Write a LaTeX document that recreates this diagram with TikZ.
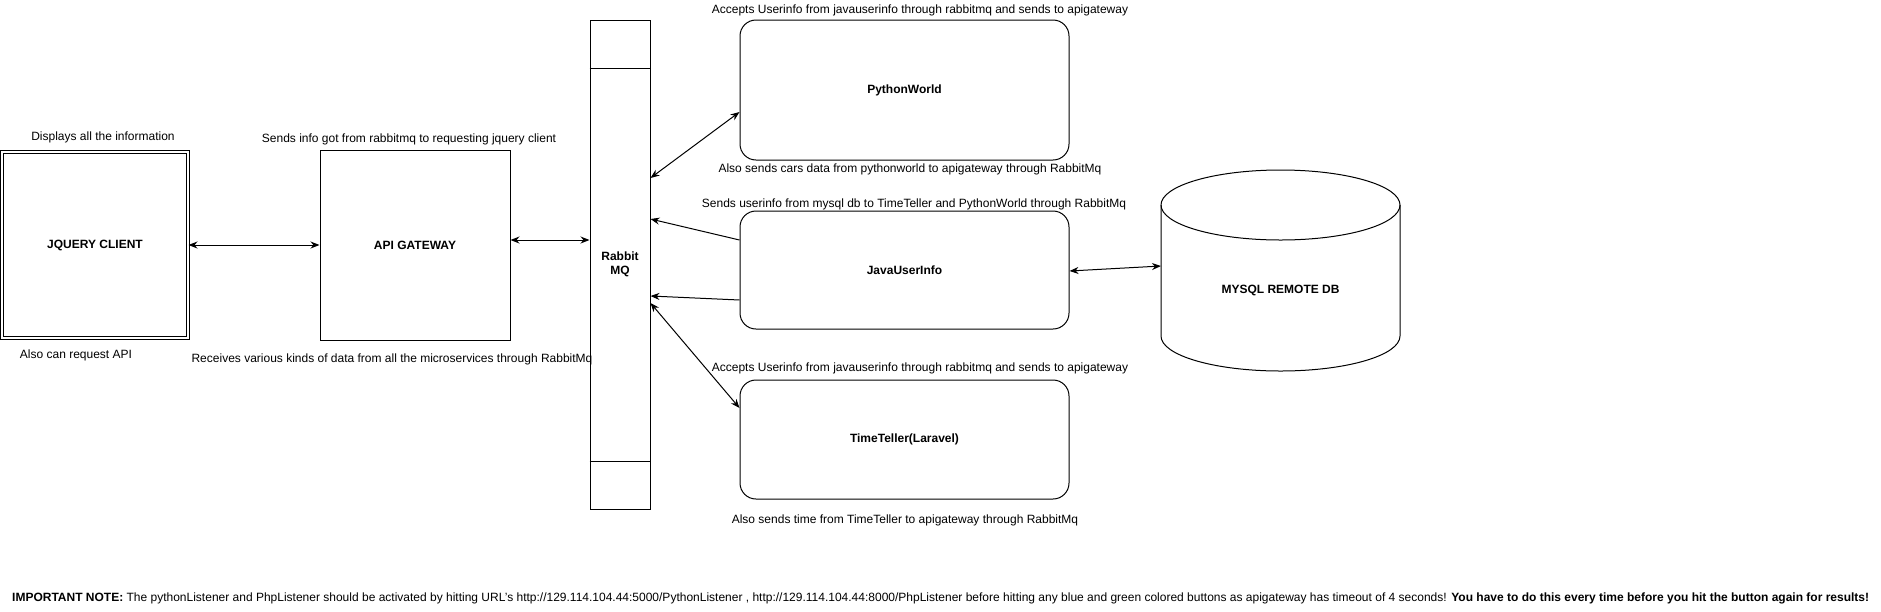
\documentclass[tikz,border=0pt]{standalone}
\usepackage{fontspec}
\setmainfont{Liberation Sans}
\usetikzlibrary{positioning,calc,arrows.meta}

\begin{document}
\begin{tikzpicture}[x=1pt,y=1pt,yscale=-1,xscale=1,
  blk/.style={draw,line width=1pt,inner sep=0,font=\fontsize{12}{14}\selectfont\bfseries,align=center},
  svc/.style={blk,rounded corners=16,minimum width=329},
  lbl/.style={inner sep=0,font=\fontsize{12}{14}\selectfont},
  bi/.style={line width=1pt,{Stealth[length=9pt,width=7pt]}-{Stealth[length=9pt,width=7pt]}},
  uni/.style={line width=1pt,-{Stealth[length=9pt,width=7pt]}}]
\useasboundingbox (0,0) rectangle (1881,611);

%Boxes
\node [blk,double,double distance=2pt,minimum width=186,minimum height=186] (jquery) at (95,245) {JQUERY CLIENT};
\node [blk,minimum width=190,minimum height=190] (gateway) at (415,245) {API GATEWAY};
\node [blk,minimum width=60,minimum height=489] (rabbit) at (620,264.5) {Rabbit\\MQ};
\draw [line width=1pt] ($(rabbit.north west)+(0,49)$) -- ($(rabbit.north east)+(0,49)$) ;
\draw [line width=1pt] ($(rabbit.south west)+(0,-48)$) -- ($(rabbit.south east)+(0,-48)$) ;
\node [svc,minimum height=140] (python) at (904.5,90) {PythonWorld};
\node [svc,minimum height=118] (java) at (904.5,270) {JavaUserInfo};
\node [svc,minimum height=119] (timeteller) at (904.5,439.5) {TimeTeller(Laravel)};

%Cylinder
\draw [line width=1pt] (1161,205) -- (1161,336) arc [start angle=180,end angle=0,x radius=119.5,y radius=35] -- (1400,205) ;
\draw [line width=1pt] (1280.5,205) ellipse [x radius=119.5,y radius=35] ;
\node [lbl,font=\fontsize{12}{14}\selectfont\bfseries] (mysql) at (1280.5,290) {MYSQL REMOTE DB};
\coordinate (dbin) at (1161,266);

%Connectors
\draw [bi] (jquery.east) -- (gateway.west) ;
\draw [bi] ($(gateway.east)+(0,-5)$) -- ($(rabbit.west)+(0,-24.5)$) ;
\draw [bi] ($(rabbit.east)+(0,-86.5)$) -- ($(python.west)+(0,22)$) ;
\draw [uni] ($(java.west)+(0,-30)$) -- ($(rabbit.east)+(0,-45.5)$) ;
\draw [uni] ($(java.west)+(0,30)$) -- ($(rabbit.east)+(0,31.5)$) ;
\draw [bi] ($(rabbit.east)+(0,38.5)$) -- ($(timeteller.west)+(0,-31.5)$) ;
\draw [bi] ($(java.east)+(0,1)$) -- (dbin) ;

% Text Node
\node [lbl] (t1) at (103,137) {Displays all the information};
% Text Node
\node [lbl] (t2) at (76,355) {Also can request API};
% Text Node
\node [lbl] (t3) at (409,139) {Sends info got from rabbitmq to requesting jquery client};
% Text Node
\node [lbl] (t4) at (392,359) {Receives various kinds of data from all the microservices through RabbitMq};
% Text Node
\node [lbl] (t5) at (920,10) {Accepts Userinfo from javauserinfo through rabbitmq and sends to apigateway};
% Text Node
\node [lbl] (t6) at (910,169) {Also sends cars data from pythonworld to apigateway through RabbitMq};
% Text Node
\node [lbl] (t7) at (914,204) {Sends userinfo from mysql db to TimeTeller and PythonWorld through RabbitMq};
% Text Node
\node [lbl] (t8) at (920,368) {Accepts Userinfo from javauserinfo through rabbitmq and sends to apigateway};
% Text Node
\node [lbl] (t9) at (905,520) {Also sends time from TimeTeller to apigateway through RabbitMq};
% Text Node
\node [lbl,anchor=west] (note) at (12,598) {\textbf{IMPORTANT NOTE:} The pythonListener and PhpListener should be activated by hitting URL's http://129.114.104.44:5000/PythonListener , http://129.114.104.44:8000/PhpListener before hitting any blue and green colored buttons as apigateway has timeout of 4 seconds! \textbf{You have to do this every time before you hit the button again for results!}};

\end{tikzpicture}
\end{document}
